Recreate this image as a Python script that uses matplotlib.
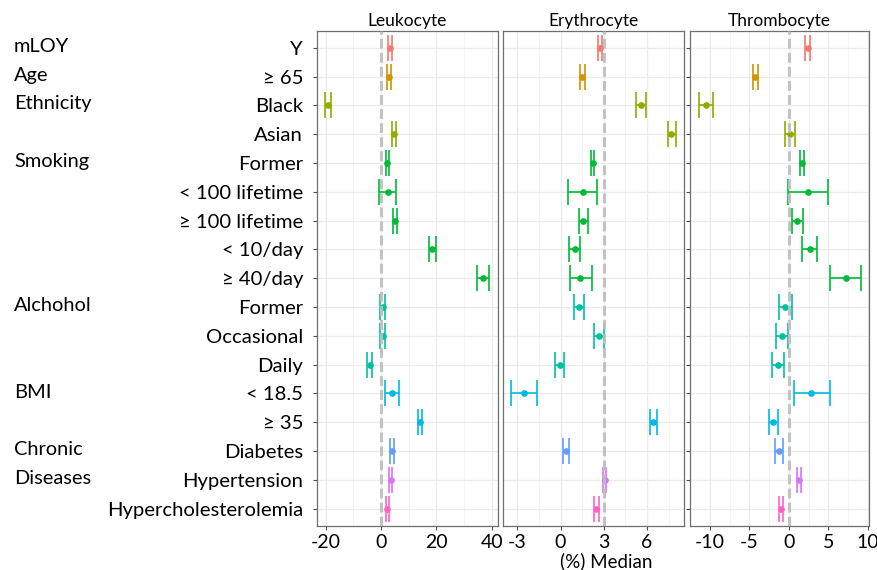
import matplotlib
matplotlib.use("Agg")
import matplotlib.pyplot as plt
from matplotlib.transforms import blended_transform_factory

plt.rcParams['font.family'] = ['Lato', 'DejaVu Sans']
plt.rcParams['axes.unicode_minus'] = False

# %% Data.
levels = ["Y", "≥ 65", "Black", "Asian", "Former", "< 100 lifetime", "≥ 100 lifetime",
          "< 10/day", "≥ 40/day", "Former", "Occasional", "Daily", "< 18.5", "≥ 35",
          "Diabetes", "Hypertension", "Hypercholesterolemia"]
groups = ["mLOY", "Age", "Ethnicity", "Smoking", "Alchohol", "BMI", "Chronic", "Diseases"]
group_rows = [1, 2, 3, 5, 10, 13, 15, 16]
color_idx = [0, 1, 2, 2, 3, 3, 3, 3, 3, 4, 4, 4, 5, 5, 6, 7, 8]
palette = ["#F8766D", "#D39200", "#93AA00", "#00BA38", "#00C19F",
           "#00B9E3", "#619CFF", "#DB72FB", "#FF61C3"]

panels = ["Leukocyte", "Erythrocyte", "Thrombocyte"]

leu_est = [3.2, 2.9, -19.1, 4.7, 2.2, 2.5, 5.0, 18.5, 36.9, 0.6, 0.7, -4.1, 4.0, 13.9, 4.0, 3.5, 2.2]
leu_lo = [2.5, 2.3, -20.1, 3.9, 1.8, -0.6, 4.2, 17.4, 34.7, -0.4, -0.4, -4.9, 1.6, 13.2, 3.4, 3.0, 1.7]
leu_hi = [3.9, 3.5, -18.1, 5.5, 2.8, 5.3, 5.9, 19.7, 39.0, 1.6, 1.4, -3.2, 6.5, 14.7, 4.6, 4.0, 2.8]

ery_est = [2.72, 1.52, 5.61, 7.68, 2.22, 1.55, 1.59, 0.97, 1.38, 1.27, 2.65, -0.07, -2.56, 6.42, 0.35, 3.05, 2.49]
ery_lo = [2.61, 1.38, 5.26, 7.43, 2.10, 0.55, 1.27, 0.58, 0.65, 0.90, 2.35, -0.37, -3.42, 6.18, 0.14, 2.93, 2.35]
ery_hi = [2.86, 1.68, 5.93, 7.98, 2.33, 2.56, 1.92, 1.34, 2.17, 1.62, 3.00, 0.21, -1.64, 6.67, 0.58, 3.16, 2.65]

thr_est = [2.4, -4.24, -10.55, 0.13, 1.64, 2.4, 1.09, 2.65, 7.23, -0.46, -0.88, -1.43, 2.86, -1.97, -1.3, 1.3, -1.0]
thr_lo = [2.1, -4.5, -11.39, -0.55, 1.43, -0.17, 0.38, 1.72, 5.21, -1.26, -1.64, -2.1, 0.63, -2.48, -1.76, 1.0, -1.3]
thr_hi = [2.65, -3.95, -9.66, 0.84, 1.89, 5.0, 1.81, 3.61, 9.2, 0.42, -0.08, -0.67, 5.17, -1.43, -0.8, 1.6, -0.71]

ref_lines = [0, 3, 0]
xticks = [[-20, 0, 20, 40], [-3, 0, 3, 6], [-10, -5, 0, 5, 10]]
xminor = [[-10, 10, 30], [-1.5, 1.5, 4.5, 7.5], [-7.5, -2.5, 2.5, 7.5]]
xlims = [(-23.1, 42.2), (-3.97, 8.56), (-12.54, 10.2)]

# %% Figure.
W, H = 878, 570
fig = plt.figure(figsize=(W / 100, H / 100), dpi=100)
boxes = [(317, 181), (503.3, 180.7), (690, 179.3)]
top, bottom = 30.5, 526

series = [(leu_est, leu_lo, leu_hi), (ery_est, ery_lo, ery_hi), (thr_est, thr_lo, thr_hi)]
rows = list(range(1, len(levels) + 1))
axes = []

for i, (name, (est, lo, hi)) in enumerate(zip(panels, series)):
    left, width = boxes[i]
    ax = fig.add_axes([left / W, (H - bottom) / H, width / W, (bottom - top) / H])
    axes.append(ax)

    ax.set_xlim(xlims[i])
    ax.set_ylim(17.6, 0.4)
    ax.set_xticks(xticks[i])
    ax.set_xticks(xminor[i], minor=True)
    ax.set_yticks(rows)
    ax.grid(True, which='major', color='#EBEBEB', linewidth=0.9, zorder=0)
    ax.grid(True, which='minor', axis='x', color='#F2F2F2', linewidth=0.5, zorder=0)
    ax.set_axisbelow(True)

    for r, e, l, h, c in zip(rows, est, lo, hi, color_idx):
        ax.errorbar(e, r, xerr=[[e - l], [h - e]], fmt='o', color=palette[c],
                    markersize=3.8, elinewidth=1.2, capsize=9.2, capthick=1.2, zorder=3)

    ax.axvline(ref_lines[i], color='#BDBDBD', linewidth=2.2, linestyle=(0, (3.2, 1.4)),
               alpha=0.9, zorder=4)

    for s in ax.spines.values():
        s.set_color('#6E6E6E')
        s.set_linewidth(0.9)
    ax.tick_params(axis='both', which='major', color='#4D4D4D', length=3, width=0.8,
                   labelcolor='black')
    ax.tick_params(axis='x', labelsize=14, pad=3)
    ax.tick_params(axis='y', labelsize=14.6)
    ax.tick_params(axis='x', which='minor', length=0)
    ax.set_title(name, fontsize=12.5, pad=3)

    if i == 0:
        ax.set_yticklabels(levels)
        ax.tick_params(axis='y', pad=7)
    elif i == 1:
        ax.set_yticklabels([])
        ax.tick_params(axis='y', length=0)
    else:
        ax.set_yticklabels([])

# %% Group labels.
trans = blended_transform_factory(fig.transFigure, axes[0].transData)
for g, r in zip(groups, group_rows):
    fig.text(14 / W, r - 0.05, g, transform=trans, ha='left', va='center', fontsize=14.4)

fig.text(606 / W, 1 - 561 / H, "(%) Median", ha='center', va='center', fontsize=13.5)

plt.savefig("out.png", dpi=100)
